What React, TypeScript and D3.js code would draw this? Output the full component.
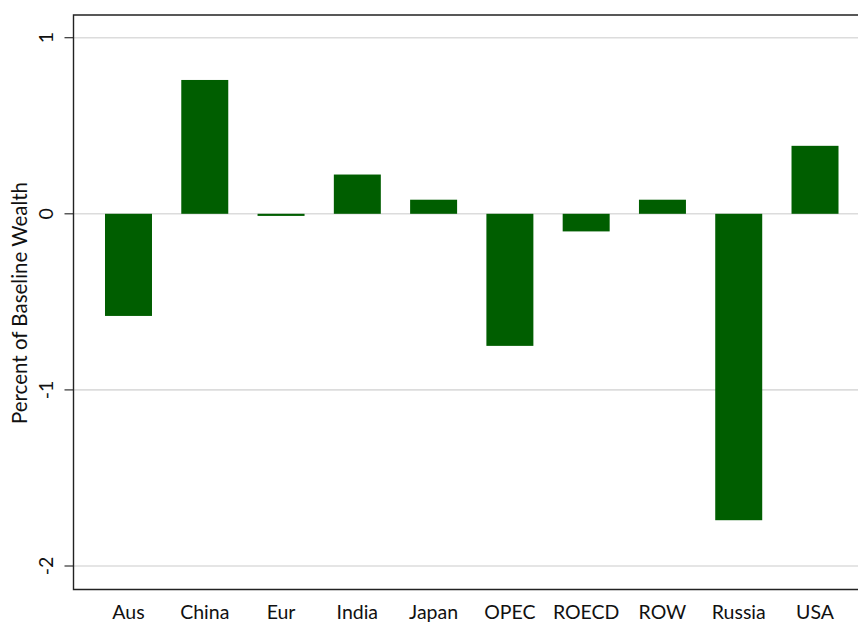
import React from "react";
import * as d3 from "d3";

const categories = ["Aus", "China", "Eur", "India", "Japan", "OPEC", "ROECD", "ROW", "Russia", "USA"];
const values = [-0.58, 0.76, -0.012, 0.223, 0.08, -0.75, -0.1, 0.08, -1.74, 0.386];
const yTicks = [1, 0, -1, -2];

const W = 859;
const H = 622;
const frame = { left: 73.5, top: 15, right: 858, bottom: 589.5 };

export default function App() {
  const y = d3.scaleLinear().domain([-2, 1]).range([566, 37.7]);
  const x = d3
    .scaleBand<string>()
    .domain(categories)
    .range([90.35, 853.15])
    .paddingInner(0.384)
    .paddingOuter(0.192);
  const font = "Lato, 'Open Sans', sans-serif";
  return (
    <svg
      width={W}
      height={H}
      style={{ position: "absolute", left: 0, top: 0, background: "#fff" }}
    >
      {yTicks.map((t) => (
        <g key={t}>
          <line x1={frame.left} x2={frame.right} y1={y(t)} y2={y(t)} stroke="#dcdcdc" strokeWidth={1.6} />
          <line x1={frame.left - 9} x2={frame.left} y1={y(t)} y2={y(t)} stroke="#333" strokeWidth={1.2} />
          <text
            transform={`translate(${53},${y(t)}) rotate(-90)`}
            textAnchor="middle"
            fontFamily={font}
            fontSize={19.5}
            fill="#111"
          >
            {t}
          </text>
        </g>
      ))}
      {categories.map((c, i) => {
        const v = values[i];
        const y0 = y(0);
        const y1 = y(v);
        return (
          <rect
            key={c}
            x={x(c)}
            width={x.bandwidth()}
            y={Math.min(y0, y1)}
            height={Math.abs(y1 - y0)}
            fill="#005e00"
          />
        );
      })}
      <path
        d={`M${frame.right},${frame.top} H${frame.left} V${frame.bottom} H${frame.right}`}
        fill="none"
        stroke="#222"
        strokeWidth={1.4}
      />
      {categories.map((c) => (
        <text
          key={c}
          x={(x(c) ?? 0) + x.bandwidth() / 2}
          y={619}
          textAnchor="middle"
          fontFamily={font}
          fontSize={19.5}
          fill="#111"
        >
          {c}
        </text>
      ))}
      <text
        transform={`translate(27,${303}) rotate(-90)`}
        textAnchor="middle"
        fontFamily={font}
        fontSize={20.5}
        fill="#111"
      >
        Percent of Baseline Wealth
      </text>
    </svg>
  );
}
